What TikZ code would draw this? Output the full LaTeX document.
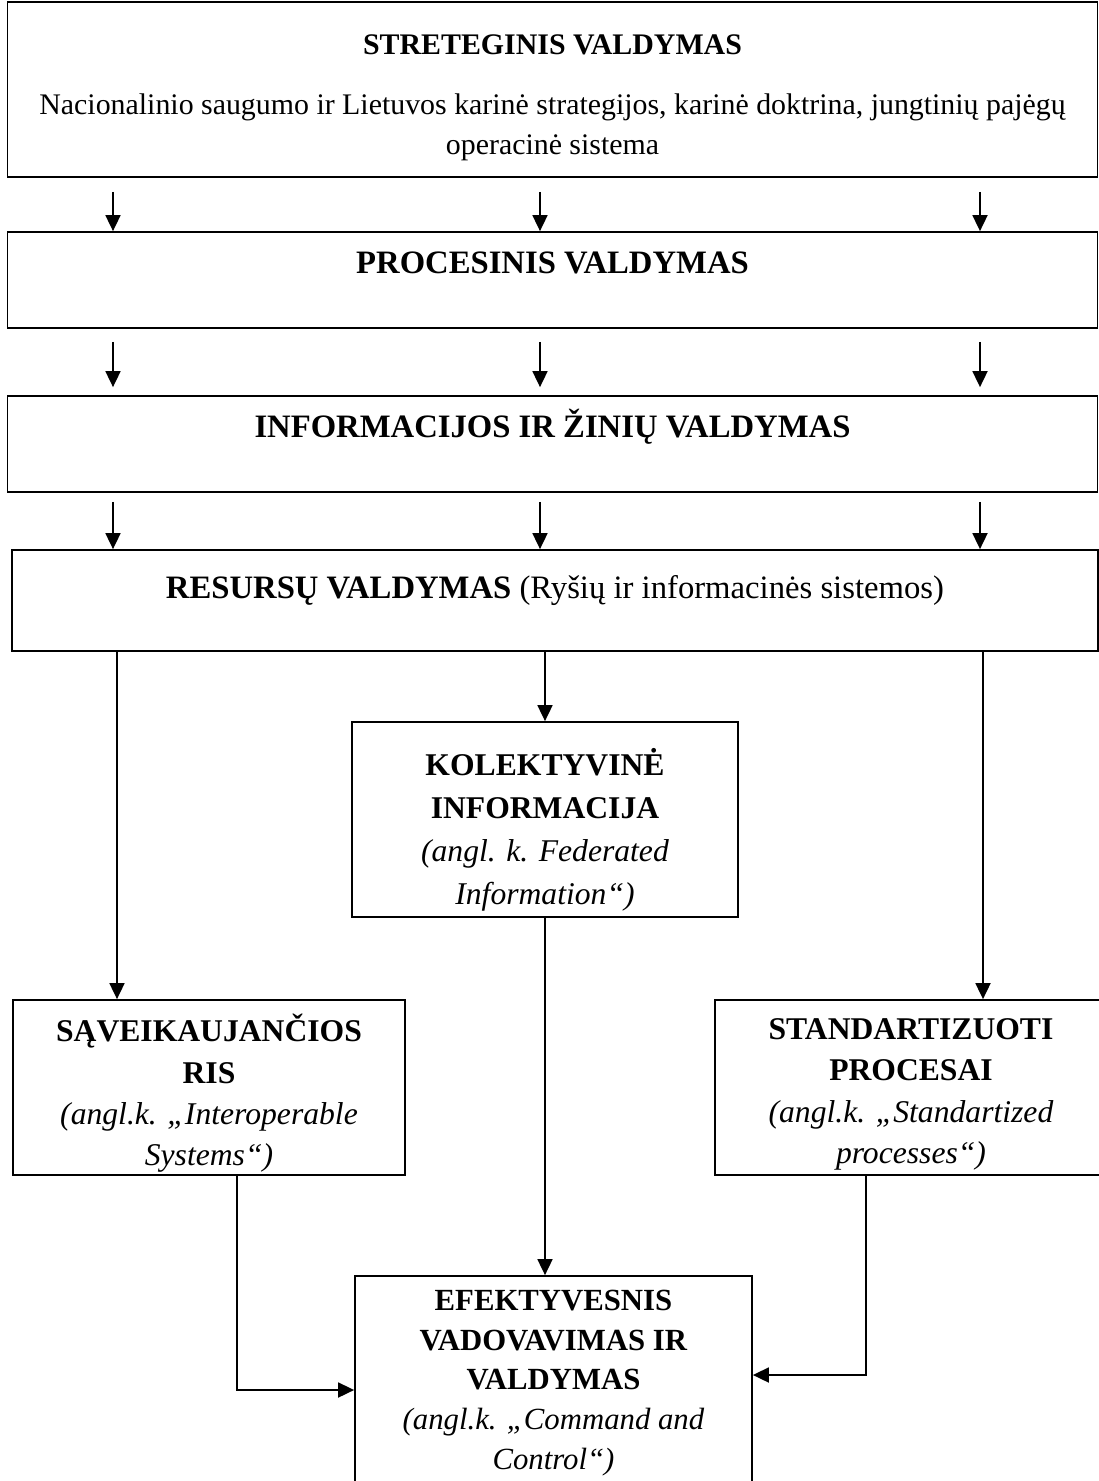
\documentclass[tikz,border=0pt]{standalone}
\usepackage{fontspec}
\setmainfont{Liberation Serif}
\usetikzlibrary{arrows.meta,positioning}

\begin{document}
\begin{tikzpicture}[
  box/.style={draw, line width=1pt, inner sep=0pt},
  head/.style={inner sep=0pt, font=\fontsize{18.6}{24}\selectfont\bfseries},
  body/.style={inner sep=0pt, align=center, font=\fontsize{17}{22.7}\selectfont},
  inbox/.style={inner sep=0pt, align=center, font=\fontsize{18}{24.4}\selectfont},
  arr/.style={-{Triangle[length=0.32cm,width=0.3cm]}, line width=1pt}
]
\useasboundingbox (0,0) rectangle (21.98,-29.62);
\clip (0,0) rectangle (21.98,-29.62);

% Wide boxes
\node[box, minimum width=21.8cm, minimum height=3.5cm] (strat) at (11.05,-1.79) {};
\node[head, font=\fontsize{17}{24}\selectfont\bfseries] (stratT) at ([yshift=-0.88cm]strat.north) {STRETEGINIS VALDYMAS};
\node[body] (stratB) at ([yshift=-2.52cm]strat.north) {Nacionalinio saugumo ir Lietuvos karinė strategijos, karinė doktrina, jungtinių pajėgų\\operacinė sistema};

\node[box, minimum width=21.8cm, minimum height=1.92cm] (proc) at (11.05,-5.6) {};
\node[head] (procT) at ([yshift=-0.64cm]proc.north) {PROCESINIS VALDYMAS};

\node[box, minimum width=21.8cm, minimum height=1.92cm] (info) at (11.05,-8.88) {};
\node[head] (infoT) at ([yshift=-0.64cm]info.north) {INFORMACIJOS IR ŽINIŲ VALDYMAS};

\node[box, minimum width=21.72cm, minimum height=2.02cm] (res) at (11.1,-12.01) {};
\node[inbox, font=\fontsize{18.6}{24}\selectfont] (resT) at ([yshift=-0.82cm]res.north) {\textbf{RESURSŲ VALDYMAS} (Ryšių ir informacinės sistemos)};

% Lower boxes
\node[box, minimum width=7.72cm, minimum height=3.9cm] (kolekt) at (10.9,-16.39) {};
\node[inbox] (kolektT) at ([yshift=-0.2cm]kolekt.center)
  {\textbf{KOLEKTYVINĖ}\\\textbf{INFORMACIJA}\\\textit{(angl. k. Federated}\\\textit{Information“)}};

\node[box, minimum width=7.84cm, minimum height=3.5cm] (sav) at (4.18,-21.75) {};
\node[inbox, font=\fontsize{18}{23.5}\selectfont] (savT) at ([yshift=-0.12cm]sav.center)
  {\textbf{SĄVEIKAUJANČIOS}\\\textbf{RIS}\\\textit{(angl.k. „Interoperable}\\\textit{Systems“)}};

\node[box, minimum width=7.84cm, minimum height=3.5cm] (stand) at (18.22,-21.75) {};
\node[inbox, font=\fontsize{18}{23.5}\selectfont] (standT) at ([yshift=-0.14cm]stand.center)
  {\textbf{STANDARTIZUOTI}\\\textbf{PROCESAI}\\\textit{(angl.k. „Standartized}\\\textit{processes“)}};

\node[box, minimum width=7.94cm, minimum height=4.38cm] (efek) at (11.07,-27.71) {};
\node[inbox, font=\fontsize{17.5}{22.7}\selectfont] (efekT) at ([yshift=0.05cm]efek.center)
  {\textbf{EFEKTYVESNIS}\\\textbf{VADOVAVIMAS IR}\\\textbf{VALDYMAS}\\\textit{(angl.k. „Command and}\\\textit{Control“)}};

% Columns of the arrows
\coordinate (colL) at (2.26,0);
\coordinate (colM) at (10.8,0);
\coordinate (colR) at (19.6,0);
\coordinate (colL2) at (2.34,0);
\coordinate (colR2) at (19.66,0);
\coordinate (outL) at (4.74,0);
\coordinate (outR) at (17.32,0);
\coordinate (inL) at ([yshift=-0.09cm]efek.west);
\coordinate (inR) at ([yshift=0.21cm]efek.east);

% Arrows between the wide boxes
\draw[arr, shorten <=0.28cm] (strat.south -| colL) -- (proc.north -| colL);
\draw[arr, shorten <=0.28cm] (strat.south -| colM) -- (proc.north -| colM);
\draw[arr, shorten <=0.28cm] (strat.south -| colR) -- (proc.north -| colR);
\draw[arr, shorten <=0.26cm, shorten >=0.16cm] (proc.south -| colL) -- (info.north -| colL);
\draw[arr, shorten <=0.26cm, shorten >=0.16cm] (proc.south -| colM) -- (info.north -| colM);
\draw[arr, shorten <=0.26cm, shorten >=0.16cm] (proc.south -| colR) -- (info.north -| colR);
\draw[arr, shorten <=0.18cm] (info.south -| colL) -- (res.north -| colL);
\draw[arr, shorten <=0.18cm] (info.south -| colM) -- (res.north -| colM);
\draw[arr, shorten <=0.18cm] (info.south -| colR) -- (res.north -| colR);

% From resources down
\draw[arr] (res.south -| colL2) -- (sav.north -| colL2);
\draw[arr] (res.south -| kolekt.north) -- (kolekt.north);
\draw[arr] (res.south -| colR2) -- (stand.north -| colR2);

% Into the command box
\draw[arr] (kolekt.south) -- (kolekt.south |- efek.north);
\draw[arr] (sav.south -| outL) |- (inL);
\draw[arr] (stand.south -| outR) |- (inR);
\end{tikzpicture}
\end{document}
